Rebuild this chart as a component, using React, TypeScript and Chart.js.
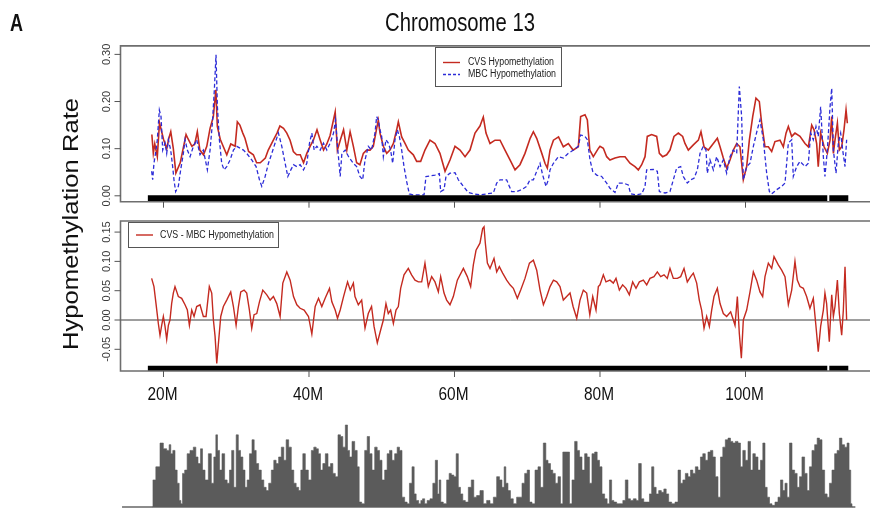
import React, { useEffect, useRef } from "react";
import { Chart, registerables } from "chart.js";

Chart.register(...registerables);

const FONT = '"Liberation Sans", Arial, Helvetica, sans-serif';

// x axis (chromosome position, Mb)
const X_MIN = 14.09;
const X_MAX = 118.9;
const xTickValues = [20, 40, 60, 80, 100];
const xTickLabels = ["20M", "40M", "60M", "80M", "100M"];

const topYTicks = [0, 0.1, 0.2, 0.3];
const topYTickLabels = ["0.00", "0.10", "0.20", "0.30"];
const midYTicks = [-0.05, 0, 0.05, 0.1, 0.15];
const midYTickLabels = ["-0.05", "0.00", "0.05", "0.10", "0.15"];

const seriesNames = ["CVS Hypomethylation", "MBC Hypomethylation", "CVS - MBC Hypomethylation"];

type Pair = [number, number];

// CVS hypomethylation rate [position Mb, rate]
const cvsSeries: Pair[] = [
  [18.4, 0.13], [18.6, 0.09], [18.8, 0.11], [19.15, 0.083], [19.45, 0.155], [20.0, 0.12], [20.45, 0.1], [20.7, 0.12],
  [21.0, 0.136], [21.35, 0.1], [21.7, 0.048], [22.3, 0.07], [22.7, 0.1], [23.1, 0.13], [23.4, 0.12], [23.9, 0.105],
  [24.3, 0.11], [24.65, 0.136], [25.0, 0.097], [25.5, 0.087], [25.95, 0.105], [26.4, 0.143], [26.85, 0.168], [27.2, 0.225],
  [27.4, 0.147], [27.8, 0.12], [28.2, 0.105], [28.7, 0.087], [29.25, 0.11], [29.85, 0.105], [30.15, 0.157], [30.5, 0.15],
  [30.9, 0.133], [31.2, 0.122], [31.7, 0.094], [32.35, 0.087], [32.8, 0.07], [33.3, 0.07], [34.0, 0.08], [34.4, 0.097],
  [35.1, 0.118], [35.6, 0.133], [36.0, 0.148], [36.5, 0.143], [36.95, 0.133], [37.4, 0.118], [37.85, 0.094], [38.3, 0.087],
  [38.8, 0.087], [39.25, 0.07], [39.7, 0.09], [40.15, 0.105], [40.6, 0.118], [41.1, 0.14], [41.55, 0.118], [42.0, 0.097],
  [42.45, 0.11], [42.9, 0.128], [43.6, 0.178], [43.9, 0.097], [44.3, 0.118], [44.75, 0.14], [45.2, 0.097], [45.65, 0.136],
  [46.1, 0.105], [46.55, 0.07], [47.0, 0.066], [47.47, 0.09], [47.92, 0.097], [48.39, 0.097], [48.84, 0.105], [49.3, 0.143],
  [49.53, 0.16], [49.76, 0.133], [50.22, 0.105], [50.68, 0.09], [51.13, 0.097], [51.6, 0.111], [52.05, 0.14], [52.28, 0.157],
  [52.74, 0.125], [53.2, 0.111], [53.65, 0.097], [54.34, 0.087], [54.8, 0.073], [55.35, 0.073], [55.94, 0.097], [56.63, 0.118],
  [57.32, 0.111], [58.0, 0.09], [58.7, 0.052], [59.38, 0.076], [60.07, 0.105], [60.76, 0.097], [61.45, 0.083], [62.13, 0.097],
  [62.82, 0.133], [63.5, 0.148], [63.96, 0.167], [64.33, 0.133], [64.88, 0.111], [65.57, 0.118], [66.26, 0.118], [66.94, 0.097],
  [67.63, 0.076], [68.32, 0.055], [69.0, 0.066], [69.69, 0.09], [70.4, 0.122], [70.84, 0.136], [71.3, 0.122], [72.0, 0.09],
  [72.44, 0.069], [72.76, 0.059], [73.13, 0.097], [73.6, 0.118], [74.3, 0.125], [74.96, 0.104], [75.65, 0.111], [76.3, 0.097],
  [77.02, 0.104], [77.34, 0.168], [77.94, 0.172], [78.26, 0.161], [78.6, 0.097], [79.08, 0.083], [79.8, 0.101], [80.0, 0.105],
  [80.46, 0.101], [80.92, 0.083], [81.37, 0.076], [82.06, 0.08], [82.75, 0.083], [83.44, 0.083], [84.12, 0.069], [84.81, 0.062],
  [85.27, 0.055], [85.73, 0.066], [86.19, 0.083], [86.5, 0.126], [87.1, 0.13], [87.79, 0.126], [88.16, 0.09], [88.61, 0.083],
  [89.16, 0.087], [89.62, 0.097], [90.17, 0.126], [90.77, 0.133], [91.36, 0.126], [91.68, 0.111], [92.14, 0.097], [92.83, 0.108],
  [93.52, 0.118], [93.88, 0.136], [94.3, 0.104], [94.89, 0.097], [95.58, 0.111], [96.13, 0.122], [96.5, 0.104], [96.95, 0.08],
  [97.41, 0.059], [97.87, 0.076], [98.33, 0.097], [98.79, 0.111], [99.24, 0.104], [99.7, 0.034], [100.16, 0.062], [100.53, 0.118],
  [100.99, 0.168], [101.44, 0.207], [101.9, 0.2], [102.22, 0.154], [102.68, 0.104], [103.14, 0.104], [103.6, 0.094], [104.05, 0.115],
  [104.74, 0.118], [105.2, 0.104], [105.57, 0.133], [105.89, 0.147], [106.35, 0.126], [106.8, 0.133], [107.49, 0.126], [108.18, 0.111],
  [108.64, 0.104], [109.1, 0.15], [109.42, 0.14], [109.78, 0.111], [110.0, 0.062], [110.33, 0.133], [110.8, 0.104], [111.25, 0.09],
  [111.62, 0.118], [111.85, 0.168], [112.08, 0.09], [112.3, 0.118], [112.63, 0.154], [112.9, 0.097], [113.22, 0.104], [113.54, 0.14],
  [113.82, 0.182], [114.0, 0.154],
];

// MBC hypomethylation rate [position Mb, rate]
const mbcSeries: Pair[] = [
  [18.37, 0.052], [18.51, 0.034], [18.69, 0.069], [18.97, 0.097], [19.15, 0.119], [19.43, 0.182], [19.66, 0.168], [19.89, 0.097],
  [20.21, 0.112], [20.44, 0.09], [20.67, 0.119], [20.99, 0.097], [21.26, 0.062], [21.44, 0.034], [21.67, 0.009], [22.04, 0.02],
  [22.36, 0.055], [22.73, 0.09], [22.96, 0.119], [23.28, 0.097], [23.65, 0.083], [24.11, 0.105], [24.56, 0.119], [25.02, 0.087],
  [25.48, 0.097], [26.03, 0.055], [26.4, 0.097], [26.72, 0.154], [26.99, 0.225], [27.22, 0.299], [27.41, 0.189], [27.68, 0.119],
  [28.0, 0.069], [28.33, 0.055], [28.69, 0.062], [29.15, 0.076], [29.61, 0.097], [30.07, 0.105], [30.53, 0.101], [30.99, 0.097],
  [31.44, 0.09], [32.13, 0.076], [32.73, 0.062], [33.19, 0.034], [33.51, 0.02], [33.97, 0.041], [34.43, 0.069], [34.89, 0.09],
  [35.34, 0.112], [35.8, 0.133], [36.26, 0.105], [36.72, 0.069], [37.09, 0.041], [37.5, 0.055], [37.87, 0.066], [38.33, 0.062],
  [38.78, 0.066], [39.24, 0.055], [39.7, 0.069], [40.07, 0.112], [40.39, 0.133], [40.71, 0.097], [41.08, 0.105], [41.54, 0.097],
  [41.99, 0.112], [42.45, 0.097], [42.91, 0.112], [43.37, 0.133], [43.65, 0.161], [43.92, 0.105], [44.29, 0.041], [44.52, 0.09],
  [44.98, 0.097], [45.44, 0.083], [46.1, 0.069], [46.55, 0.062], [47.0, 0.041], [47.38, 0.034], [47.7, 0.076], [48.15, 0.105],
  [48.6, 0.097], [49.07, 0.133], [49.3, 0.168], [49.53, 0.161], [49.76, 0.14], [49.99, 0.126], [50.22, 0.083], [50.58, 0.119],
  [50.9, 0.112], [51.22, 0.097], [51.5, 0.069], [51.82, 0.119], [52.14, 0.14], [52.42, 0.126], [52.74, 0.097], [53.06, 0.062],
  [53.43, 0.03], [53.79, 0.004], [54.34, 0.002], [55.26, 0.002], [55.81, 0.002], [56.08, 0.041], [56.63, 0.042], [57.32, 0.044],
  [57.92, 0.047], [58.1, 0.009], [58.56, 0.013], [58.83, 0.041], [59.38, 0.048], [60.07, 0.049], [60.53, 0.034], [61.22, 0.02],
  [61.9, 0.007], [62.59, 0.004], [63.5, 0.002], [64.42, 0.004], [65.34, 0.006], [65.8, 0.027], [66.26, 0.034], [67.17, 0.034],
  [67.54, 0.02], [67.86, 0.009], [68.55, 0.009], [69.23, 0.013], [69.92, 0.02], [70.38, 0.034], [70.84, 0.034], [71.3, 0.052],
  [71.76, 0.069], [72.12, 0.044], [72.58, 0.02], [72.9, 0.034], [73.13, 0.055], [73.6, 0.069], [74.28, 0.083], [74.96, 0.08],
  [75.65, 0.09], [76.34, 0.097], [77.02, 0.105], [77.34, 0.129], [77.94, 0.126], [78.26, 0.119], [78.63, 0.076], [79.0, 0.052],
  [79.54, 0.044], [80.23, 0.041], [80.92, 0.027], [81.37, 0.016], [82.06, 0.007], [82.52, 0.027], [83.21, 0.027], [83.89, 0.023],
  [84.22, 0.004], [85.04, 0.002], [85.73, 0.004], [86.19, 0.02], [86.41, 0.055], [87.33, 0.056], [87.88, 0.052], [88.16, 0.009],
  [88.94, 0.006], [89.62, 0.009], [90.08, 0.034], [90.54, 0.059], [91.09, 0.062], [91.45, 0.041], [92.0, 0.027], [92.46, 0.034],
  [92.92, 0.037], [93.38, 0.055], [93.75, 0.09], [94.2, 0.105], [94.57, 0.097], [94.75, 0.048], [95.12, 0.076], [95.58, 0.055],
  [96.04, 0.083], [96.5, 0.062], [96.95, 0.076], [97.41, 0.048], [97.87, 0.083], [98.33, 0.097], [98.79, 0.09], [99.15, 0.232],
  [99.47, 0.168], [99.7, 0.034], [100.16, 0.062], [100.62, 0.069], [101.08, 0.105], [101.62, 0.14], [101.99, 0.161], [102.45, 0.119],
  [102.91, 0.048], [103.28, 0.009], [103.6, 0.004], [104.28, 0.013], [104.97, 0.02], [105.43, 0.027], [105.89, 0.112], [106.35, 0.119],
  [106.57, 0.041], [107.03, 0.062], [107.49, 0.073], [108.18, 0.062], [108.64, 0.069], [108.96, 0.133], [109.32, 0.119], [109.69, 0.147],
  [110.0, 0.126], [110.33, 0.189], [110.7, 0.083], [110.92, 0.041], [111.25, 0.097], [111.62, 0.189], [111.85, 0.228], [112.08, 0.097],
  [112.44, 0.048], [112.76, 0.112], [113.08, 0.133], [113.36, 0.097], [113.68, 0.062], [113.9, 0.119],
];

// CVS - MBC difference [position Mb, rate difference]
const diffSeries: Pair[] = [
  [18.37, 0.071], [18.69, 0.057], [18.97, 0.028], [19.29, -0.006], [19.52, -0.026], [19.75, -0.009], [19.98, 0.006], [20.21, -0.011],
  [20.44, -0.033], [20.67, -0.009], [20.89, 0], [21.12, 0.028], [21.35, 0.046], [21.58, 0.057], [22.04, 0.04], [22.5, 0.037],
  [22.96, 0.026], [23.28, 0.017], [23.56, -0.009], [23.88, 0.017], [24.2, 0.006], [24.56, 0.023], [25.02, 0.026], [25.48, 0.006],
  [25.85, 0.006], [26.3, 0.057], [26.63, 0.046], [26.86, 0], [27.09, -0.028], [27.32, -0.074], [27.55, -0.04], [27.87, 0.006],
  [28.23, 0.023], [28.69, 0.034], [29.24, 0.048], [29.61, 0.023], [29.98, -0.009], [30.3, 0.023], [30.62, 0.048], [31.08, 0.051],
  [31.44, 0.046], [31.81, 0.017], [32.13, -0.014], [32.45, 0.009], [32.82, 0.011], [33.19, 0.031], [33.65, 0.051], [34.2, 0.043],
  [34.66, 0.034], [35.11, 0.04], [35.57, 0.028], [36.03, 0.006], [36.4, 0.063], [36.95, 0.082], [37.41, 0.068], [37.87, 0.04],
  [38.33, 0.026], [38.78, 0.02], [39.33, 0.017], [39.93, 0.006], [40.39, -0.024], [40.85, 0.023], [41.31, 0.037], [41.76, 0.023],
  [42.22, 0.037], [42.82, 0.054], [43.14, 0.031], [43.6, 0.017], [43.92, 0.003], [44.29, 0.017], [44.75, 0.04], [45.3, 0.065],
  [45.67, 0.051], [46.1, 0.063], [46.32, 0.04], [46.78, 0.026], [47.24, 0.034], [47.7, -0.014], [48.15, 0.011], [48.6, 0.023],
  [48.94, -0.011], [49.39, -0.039], [49.85, -0.017], [50.22, 0], [50.58, 0.028], [50.9, 0.011], [51.22, 0.017], [51.6, -0.006],
  [51.96, 0.017], [52.28, 0.023], [52.6, 0.054], [53.06, 0.077], [53.65, 0.088], [54.1, 0.077], [54.57, 0.068], [55.03, 0.065],
  [55.49, 0.065], [55.94, 0.097], [56.4, 0.057], [56.86, 0.074], [57.32, 0.065], [57.78, 0.048], [58.1, 0.074], [58.56, 0.046],
  [58.92, 0.034], [59.38, 0.026], [59.84, 0.04], [60.39, 0.068], [61.22, 0.088], [61.76, 0.074], [62.22, 0.057], [62.59, 0.094],
  [62.96, 0.119], [63.5, 0.131], [63.87, 0.156], [64.06, 0.159], [64.24, 0.131], [64.52, 0.097], [64.88, 0.088], [65.43, 0.105],
  [65.8, 0.082], [66.16, 0.091], [66.62, 0.08], [67.17, 0.068], [67.63, 0.06], [68.09, 0.054], [68.64, 0.037], [69.1, 0.051],
  [69.69, 0.071], [70.3, 0.097], [70.84, 0.102], [71.3, 0.085], [71.76, 0.051], [72.22, 0.026], [72.67, 0.04], [73.13, 0.057],
  [73.6, 0.068], [74.05, 0.065], [74.5, 0.057], [74.96, 0.034], [75.42, 0.04], [75.88, 0.046], [76.3, 0.023], [76.8, 0.003],
  [77.25, 0.034], [77.71, 0.051], [78.17, 0.046], [78.6, 0.009], [79.0, 0.04], [79.45, 0.017], [79.77, 0.057], [80.0, 0.06],
  [80.46, 0.077], [80.82, 0.065], [81.37, 0.068], [81.83, 0.063], [82.2, 0.071], [82.66, 0.051], [83.11, 0.06], [83.57, 0.054],
  [84.03, 0.043], [84.49, 0.065], [84.95, 0.054], [85.41, 0.065], [85.96, 0.068], [86.42, 0.06], [86.87, 0.071], [87.42, 0.074],
  [87.88, 0.082], [88.34, 0.074], [88.8, 0.077], [89.25, 0.071], [89.62, 0.088], [90.08, 0.071], [90.63, 0.071], [91.09, 0.074],
  [91.55, 0.088], [92.0, 0.065], [92.46, 0.074], [92.83, 0.08], [93.29, 0.063], [93.65, 0.034], [93.97, 0.017], [94.3, -0.014],
  [94.66, 0.006], [95.03, -0.011], [95.35, 0.017], [95.67, 0.04], [96.13, 0.054], [96.5, 0.028], [96.95, 0.011], [97.41, 0.006],
  [97.96, 0.014], [98.33, 0], [98.56, -0.009], [98.88, 0.04], [99.15, -0.023], [99.43, -0.065], [99.7, 0], [100.16, 0.017],
  [100.62, 0.048], [101.08, 0.082], [101.53, 0.068], [101.99, 0.048], [102.36, 0.04], [102.68, 0.074], [103.14, 0.097], [103.6, 0.088],
  [103.92, 0.108], [104.51, 0.094], [104.97, 0.085], [105.43, 0.074], [105.89, 0.026], [106.35, 0.051], [106.8, 0.1], [107.12, 0.068],
  [107.49, 0.057], [107.95, 0.054], [108.4, 0.04], [108.86, 0.02], [109.32, 0.037], [109.69, -0.011], [110.0, -0.054], [110.33, -0.011],
  [110.7, 0.017], [110.92, 0.046], [111.15, 0.028], [111.52, -0.037], [111.85, 0.043], [112.08, 0.006], [112.3, 0.023], [112.63, 0.068],
  [112.9, 0.011], [113.22, -0.026], [113.45, 0.017], [113.68, 0.091], [113.9, 0],
];

// density track below the panels [position Mb, relative height]
const histSeries: Pair[] = [
  [18.5, 0], [18.6, 33], [19.29, 49], [19.75, 78], [20.21, 71], [20.66, 69], [20.89, 76], [21.12, 65], [21.44, 69], [21.72, 45],
  [22.04, 29], [22.27, 8], [22.5, 4], [22.73, 41], [23.09, 45], [23.41, 65], [23.87, 69], [24.33, 73], [24.56, 61], [24.93, 53],
  [25.25, 71], [25.48, 45], [25.94, 33], [26.39, 65], [26.76, 29], [27.08, 61], [27.31, 88], [27.54, 69], [27.86, 45], [28.22, 65],
  [28.59, 33], [28.91, 29], [29.23, 45], [29.51, 69], [29.83, 24], [30.15, 88], [30.42, 69], [30.75, 61], [31.07, 45], [31.34, 24],
  [31.66, 33], [31.98, 65], [32.35, 82], [32.58, 69], [32.9, 53], [33.26, 45], [33.63, 33], [33.95, 24], [34.27, 20], [34.64, 29],
  [35.0, 45], [35.32, 57], [35.64, 53], [36.01, 61], [36.38, 73], [36.7, 57], [37.02, 82], [37.39, 73], [37.75, 45], [38.07, 29],
  [38.4, 24], [38.76, 20], [38.99, 45], [39.31, 65], [39.68, 45], [40.14, 33], [40.5, 69], [40.82, 73], [41.15, 71], [41.42, 65],
  [41.74, 45], [42.06, 53], [42.43, 65], [42.8, 49], [43.12, 53], [43.44, 41], [43.8, 37], [44.17, 88], [44.49, 86], [44.81, 73],
  [45.18, 100], [45.41, 69], [45.73, 61], [46.1, 80], [46.46, 69], [46.79, 49], [47.01, 6], [47.47, 4], [47.84, 69], [48.16, 86],
  [48.48, 65], [48.85, 45], [49.21, 73], [49.53, 69], [49.85, 57], [50.22, 33], [50.58, 45], [50.9, 65], [51.23, 69], [51.59, 57],
  [51.96, 65], [52.28, 73], [52.6, 69], [52.97, 12], [53.33, 6], [53.65, 4], [53.97, 29], [54.34, 49], [54.57, 16], [54.89, 8],
  [55.26, 4], [55.49, 8], [55.72, 10], [56.08, 4], [56.4, 8], [56.86, 10], [57.18, 29], [57.55, 57], [57.78, 16], [58.0, 33],
  [58.23, 6], [58.69, 4], [59.15, 33], [59.38, 41], [59.75, 39], [60.07, 37], [60.39, 65], [60.66, 24], [60.98, 16], [61.3, 8],
  [61.67, 6], [62.13, 24], [62.49, 33], [62.81, 12], [63.27, 14], [63.73, 20], [64.19, 4], [64.65, 8], [65.11, 4], [65.57, 12],
  [66.02, 37], [66.34, 33], [66.71, 24], [66.94, 49], [67.17, 29], [67.53, 20], [67.85, 10], [68.31, 4], [68.77, 12], [69.09, 12],
  [69.46, 29], [69.83, 41], [70.15, 45], [70.47, 6], [70.84, 4], [71.29, 45], [71.66, 49], [71.98, 24], [72.44, 78], [72.67, 57],
  [73.04, 53], [73.35, 45], [73.67, 41], [74.04, 29], [74.41, 37], [74.73, 4], [75.05, 67], [75.33, 67], [75.65, 67], [75.97, 4],
  [76.33, 33], [76.7, 80], [77.02, 69], [77.34, 61], [77.71, 45], [78.07, 65], [78.39, 61], [78.71, 29], [79.08, 65], [79.45, 67],
  [79.77, 57], [80.09, 49], [80.46, 16], [80.82, 10], [81.14, 4], [81.46, 33], [81.74, 8], [82.06, 6], [82.52, 4], [82.98, 4],
  [83.3, 8], [83.66, 33], [84.03, 10], [84.35, 8], [84.81, 10], [85.13, 8], [85.49, 53], [85.86, 10], [86.18, 6], [86.64, 6],
  [86.96, 16], [87.24, 49], [87.56, 24], [87.88, 16], [88.25, 20], [88.61, 18], [88.94, 22], [89.26, 16], [89.62, 6], [90.08, 4],
  [90.54, 6], [90.91, 45], [91.23, 29], [91.55, 33], [91.91, 41], [92.28, 37], [92.6, 45], [92.92, 41], [93.29, 49], [93.65, 45],
  [93.97, 61], [94.29, 65], [94.66, 57], [95.02, 67], [95.35, 69], [95.67, 61], [96.04, 37], [96.4, 12], [96.72, 61], [97.04, 73],
  [97.41, 82], [97.78, 84], [98.1, 80], [98.42, 78], [98.78, 80], [99.15, 78], [99.47, 49], [99.79, 69], [100.16, 57], [100.53, 80],
  [100.85, 45], [101.17, 65], [101.53, 61], [101.9, 45], [102.22, 57], [102.54, 78], [102.82, 24], [103.14, 12], [103.46, 4], [103.82, 2],
  [104.28, 6], [104.65, 12], [104.97, 33], [105.29, 20], [105.56, 29], [105.88, 12], [106.21, 78], [106.57, 45], [106.94, 41], [107.26, 24],
  [107.58, 37], [107.94, 61], [108.31, 41], [108.63, 20], [108.95, 49], [109.32, 69], [109.69, 76], [110.01, 84], [110.33, 82], [110.7, 45],
  [111.06, 16], [111.38, 12], [111.7, 29], [112.07, 45], [112.43, 65], [112.75, 69], [113.07, 84], [113.44, 76], [113.8, 73], [114.12, 78],
  [114.35, 45], [114.58, 4], [114.7, 0],
];

// covered region bar (black) [start, gap start, gap end, end] in Mb
const coveredStart = 17.85;
const coveredGapStart = 111.24;
const coveredGapEnd = 111.52;
const coveredEnd = 114.13;
const histBaselineRange = [14.3, 115.1];

const toXY = (s: Pair[]) => s.map(([x, y]) => ({ x, y }));
const coverBar = (y: number) => [
  { x: coveredStart, y },
  { x: coveredGapStart, y },
  { x: (coveredGapStart + coveredGapEnd) / 2, y: null },
  { x: coveredGapEnd, y },
  { x: coveredEnd, y },
];

const RED = "#c42a20";
const BLUE = "#2c2cd8";

function drawText(
  ctx: CanvasRenderingContext2D,
  text: string,
  x: number,
  y: number,
  o: { font: string; width?: number; align?: CanvasTextAlign; baseline?: CanvasTextBaseline; color?: string; angle?: number; k?: number }
) {
  ctx.save();
  ctx.font = o.font;
  ctx.fillStyle = o.color || "#111";
  ctx.textAlign = o.align || "left";
  ctx.textBaseline = o.baseline || "alphabetic";
  ctx.translate(x, y);
  if (o.angle) ctx.rotate(o.angle);
  let k = o.k || 1;
  if (o.width) {
    const w = ctx.measureText(text).width;
    if (w > 0) k = o.width / w;
  }
  ctx.scale(k, 1);
  ctx.fillText(text, 0, 0);
  ctx.restore();
}

function panelPlugin(cfg: {
  id: string;
  yTicks: number[];
  yLabels: string[];
  zeroLine?: boolean;
  xLabels?: boolean;
  extra?: (chart: any) => void;
}) {
  return {
    id: cfg.id,
    beforeDatasetsDraw(chart: any) {
      if (!cfg.zeroLine) return;
      const { ctx, chartArea: a } = chart;
      const y0 = chart.scales.y.getPixelForValue(0);
      ctx.save();
      ctx.strokeStyle = "#3c3c3c";
      ctx.lineWidth = 1;
      ctx.beginPath();
      ctx.moveTo(a.left, y0);
      ctx.lineTo(chart.width, y0);
      ctx.stroke();
      ctx.restore();
    },
    afterDraw(chart: any) {
      const { ctx, chartArea: a } = chart;
      const xs = chart.scales.x;
      const ys = chart.scales.y;
      ctx.save();
      ctx.strokeStyle = "#6e6e6e";
      ctx.lineWidth = 1.6;
      ctx.beginPath();
      ctx.moveTo(chart.width, a.top);
      ctx.lineTo(a.left, a.top);
      ctx.lineTo(a.left, a.bottom);
      ctx.lineTo(chart.width, a.bottom);
      ctx.stroke();
      ctx.strokeStyle = "#555";
      ctx.lineWidth = 1;
      cfg.yTicks.forEach((v, i) => {
        const py = ys.getPixelForValue(v);
        ctx.beginPath();
        ctx.moveTo(a.left - 6, py);
        ctx.lineTo(a.left, py);
        ctx.stroke();
        drawText(ctx, cfg.yLabels[i], a.left - 14, py, {
          font: `11px ${FONT}`,
          align: "center",
          baseline: "middle",
          color: "#3a3a3a",
          angle: -Math.PI / 2,
        });
      });
      xTickValues.forEach((v) => {
        const px = xs.getPixelForValue(v);
        ctx.beginPath();
        ctx.moveTo(px, a.bottom);
        ctx.lineTo(px, a.bottom + 6);
        ctx.stroke();
      });
      if (cfg.xLabels) {
        ctx.font = `19px ${FONT}`;
        const k = 30 / ctx.measureText(xTickLabels[0]).width;
        xTickValues.forEach((v, i) => {
          const px = xs.getPixelForValue(v);
          drawText(ctx, xTickLabels[i], px - 1, a.bottom + 29, { font: `19px ${FONT}`, align: "center", color: "#111", k });
        });
      }
      ctx.restore();
      if (cfg.extra) cfg.extra(chart);
    },
  };
}

function topExtra(chart: any) {
  const ctx: CanvasRenderingContext2D = chart.ctx;
  drawText(ctx, "A", 10, 31, { font: `bold 24px ${FONT}`, width: 13, color: "#111" });
  drawText(ctx, "Chromosome 13", 460, 31, { font: `25px ${FONT}`, width: 150, align: "center", color: "#111" });
  drawText(ctx, "Hypomethylation Rate", 78, 224, {
    font: `22px ${FONT}`,
    width: 252,
    align: "center",
    color: "#111",
    angle: -Math.PI / 2,
  });
  // legend
  ctx.save();
  ctx.fillStyle = "#fff";
  ctx.fillRect(435, 47, 126, 39);
  ctx.strokeStyle = "#555";
  ctx.lineWidth = 1;
  ctx.strokeRect(435.5, 47.5, 126, 39);
  ctx.strokeStyle = RED;
  ctx.lineWidth = 1.4;
  ctx.beginPath();
  ctx.moveTo(443, 62.5);
  ctx.lineTo(460, 62.5);
  ctx.stroke();
  ctx.strokeStyle = BLUE;
  ctx.setLineDash([3, 2]);
  ctx.beginPath();
  ctx.moveTo(443, 74.5);
  ctx.lineTo(460, 74.5);
  ctx.stroke();
  ctx.setLineDash([]);
  ctx.restore();
  drawText(ctx, seriesNames[0], 468, 62.5, { font: `10px ${FONT}`, width: 86, baseline: "middle", color: "#222" });
  drawText(ctx, seriesNames[1], 468, 74.5, { font: `10px ${FONT}`, width: 88, baseline: "middle", color: "#222" });
}

function midExtra(chart: any) {
  const ctx: CanvasRenderingContext2D = chart.ctx;
  ctx.save();
  ctx.fillStyle = "#fff";
  ctx.fillRect(128, 222, 150, 25);
  ctx.strokeStyle = "#555";
  ctx.lineWidth = 1;
  ctx.strokeRect(128.5, 222.5, 150, 25);
  ctx.strokeStyle = RED;
  ctx.lineWidth = 1.4;
  ctx.beginPath();
  ctx.moveTo(136, 235);
  ctx.lineTo(153, 235);
  ctx.stroke();
  ctx.restore();
  drawText(ctx, seriesNames[2], 160, 235, { font: `10.5px ${FONT}`, width: 114, baseline: "middle", color: "#222" });
}

function baseOptions(padding: any, ymin: number, ymax: number) {
  return {
    responsive: false,
    maintainAspectRatio: false,
    animation: false,
    events: [],
    layout: { padding },
    plugins: { legend: { display: false }, tooltip: { enabled: false }, title: { display: false } },
    scales: {
      x: { type: "linear", min: X_MIN, max: X_MAX, display: false },
      y: { type: "linear", min: ymin, max: ymax, display: false },
    },
    elements: { point: { radius: 0 }, line: { tension: 0 } },
  };
}

const W = 900;
const H = 516;

export default function App() {
  const topRef = useRef<HTMLCanvasElement>(null);
  const midRef = useRef<HTMLCanvasElement>(null);
  const histRef = useRef<HTMLCanvasElement>(null);

  useEffect(() => {
    const charts: Chart[] = [];

    charts.push(
      new Chart(histRef.current as HTMLCanvasElement, {
        type: "line",
        data: {
          datasets: [
            {
              data: toXY(histSeries),
              stepped: "middle",
              fill: "origin",
              backgroundColor: "#5b5b5b",
              borderColor: "#5b5b5b",
              borderWidth: 0.6,
              pointRadius: 0,
            },
            {
              data: histBaselineRange.map((x) => ({ x, y: 0 })),
              borderColor: "#8c8c8c",
              borderWidth: 2,
              pointRadius: 0,
              fill: false,
            },
          ],
        },
        options: baseOptions({ left: 120.5, right: 17, top: 416.8, bottom: 4.9 }, -5, 110),
      } as any)
    );

    charts.push(
      new Chart(topRef.current as HTMLCanvasElement, {
        type: "line",
        data: {
          datasets: [
            {
              data: coverBar(-0.0053),
              borderColor: "#000",
              borderWidth: 6,
              borderCapStyle: "butt",
              spanGaps: false,
              pointRadius: 0,
            },
            {
              label: seriesNames[1],
              data: toXY(mbcSeries),
              borderColor: BLUE,
              borderWidth: 1.3,
              borderDash: [4, 2.5],
              pointRadius: 0,
            },
            {
              label: seriesNames[0],
              data: toXY(cvsSeries),
              borderColor: RED,
              borderWidth: 1.6,
              pointRadius: 0,
            },
          ],
        },
        options: baseOptions({ left: 120.5, right: 17, top: 45.9, bottom: H - 201.7 }, -0.0125, 0.318),
        plugins: [panelPlugin({ id: "topPanel", yTicks: topYTicks, yLabels: topYTickLabels, extra: topExtra })],
      } as any)
    );

    charts.push(
      new Chart(midRef.current as HTMLCanvasElement, {
        type: "line",
        data: {
          datasets: [
            {
              data: coverBar(-0.0828),
              borderColor: "#000",
              borderWidth: 5.5,
              borderCapStyle: "butt",
              spanGaps: false,
              pointRadius: 0,
            },
            {
              label: seriesNames[2],
              data: toXY(diffSeries),
              borderColor: RED,
              borderWidth: 1.4,
              pointRadius: 0,
            },
          ],
        },
        options: baseOptions({ left: 120.5, right: 17, top: 221, bottom: H - 371 }, -0.087, 0.1689),
        plugins: [
          panelPlugin({ id: "midPanel", yTicks: midYTicks, yLabels: midYTickLabels, zeroLine: true, xLabels: true, extra: midExtra }),
        ],
      } as any)
    );

    return () => charts.forEach((c) => c.destroy());
  }, []);

  const cs: React.CSSProperties = { position: "absolute", left: 0, top: 0, width: W, height: H };
  return (
    <div style={{ position: "absolute", left: 0, top: 0, width: 870, height: 516, overflow: "hidden", background: "#fff" }}>
      <canvas ref={histRef} width={W} height={H} style={cs} />
      <canvas ref={midRef} width={W} height={H} style={cs} />
      <canvas ref={topRef} width={W} height={H} style={cs} />
    </div>
  );
}
